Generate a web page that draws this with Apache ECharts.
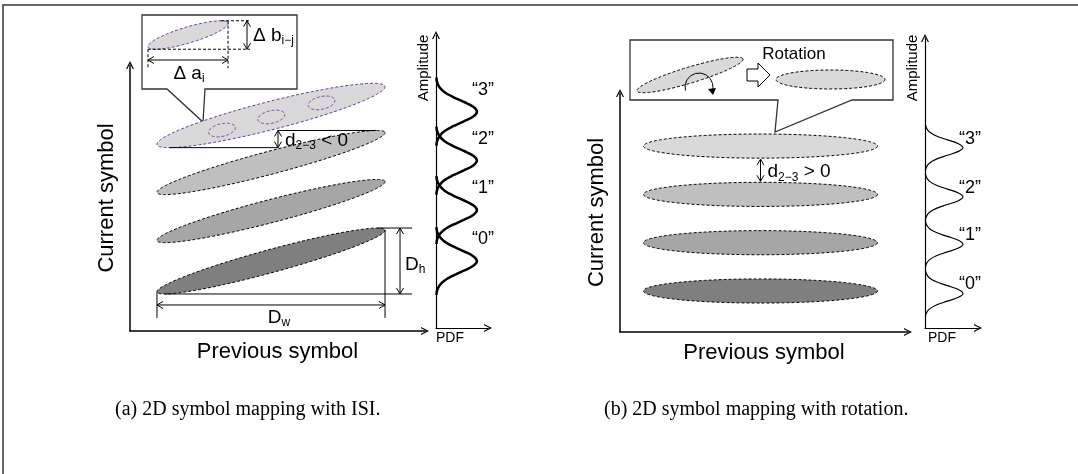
<!DOCTYPE html>
<html>
<head>
<meta charset="utf-8">
<script src="https://cdn.jsdelivr.net/npm/echarts@6/dist/echarts.min.js"></script>
<style>
  html, body { margin: 0; padding: 0; background: #fff; }
  #chart { width: 1078px; height: 474px; }
</style>
</head>
<body>
<div id="chart"></div>
<script>
// ---------- data ----------
const symbolNames = ['\u201c0\u201d', '\u201c1\u201d', '\u201c2\u201d', '\u201c3\u201d'];

// (a) symbol clusters under ISI: [prevStart, prevEnd, curStart, curEnd, halfThickness]
const isiClusters = [
  [0, 3, -0.64, 0.64, 0.237],
  [0, 3, 0.42, 1.64, 0.237],
  [0, 3, 1.41, 2.65, 0.237],
  [0, 3, 2.40, 3.60, 0.29]
];
// sub-clusters inside the top cluster
const isiSubClusters = [
  [0.68, 1.03, 2.64, 2.76, 0.13],
  [1.33, 1.68, 2.91, 3.03, 0.13],
  [1.99, 2.34, 3.20, 3.32, 0.13]
];
const isiPdfPeaks = [0, 1.05, 2.07, 3.08];
// one PDF lobe: [amplitude offset from peak, density]
const isiPdfShape = [
  [-0.7, 0.01], [-0.6, 0.03], [-0.5, 0.09], [-0.4, 0.21], [-0.3, 0.42], [-0.2, 0.68], [-0.1, 0.91],
  [0, 1], [0.1, 0.91], [0.2, 0.68], [0.3, 0.42], [0.4, 0.21], [0.5, 0.09], [0.6, 0.03], [0.7, 0.01]
];

// (b) symbol clusters after rotation
const rotClusters = [
  [0, 3, 0, 0, 0.25],
  [0, 3, 1, 1, 0.25],
  [0, 3, 2, 2, 0.25],
  [0, 3, 3, 3, 0.25]
];
const rotPdfPeaks = [-0.05, 0.97, 1.95, 2.97];
const rotPdfShape = [
  [-0.48, 0.01], [-0.4, 0.04], [-0.32, 0.12], [-0.24, 0.3], [-0.16, 0.59], [-0.08, 0.88],
  [0, 1], [0.08, 0.88], [0.16, 0.59], [0.24, 0.3], [0.32, 0.12], [0.4, 0.04], [0.48, 0.01]
];

// ---------- styles ----------
const SANS = "'Liberation Sans', Arial, sans-serif";
const SERIF = "'Liberation Serif', 'Times New Roman', serif";
const clusterFill = ['#7f7f7f', '#a6a6a6', '#bfbfbf', '#d9d9d9'];
const PURPLE = '#7030a0';
const DASH = [3, 2];
const ARROW = 'path://M0,10 L5,0 L10,10 L8.4,10 L5,3.2 L1.6,10 Z';

// ---------- helpers ----------
const measureCtx = document.createElement('canvas').getContext('2d');
function textWidth(str, size) {
  measureCtx.font = size + 'px ' + SANS;
  return measureCtx.measureText(str).width;
}
function plainText(text, x, y, size, align) {
  return {
    type: 'text',
    style: { text, x, y, fill: '#000', font: size + 'px ' + SANS, textAlign: align || 'center', textVerticalAlign: 'middle' }
  };
}
// label made of segments [text, fontSize, dy]; used for subscripts
function segLabel(x, y, segs, align) {
  const widths = segs.map(s => textWidth(s[0], s[1]));
  const total = widths.reduce((a, b) => a + b, 0);
  let cx = align === 'center' ? x - total / 2 : x;
  return segs.map((s, i) => {
    const el = plainText(s[0], cx, y + (s[2] || 0), s[1], 'left');
    cx += widths[i];
    return el;
  });
}
function ellipsePoints(cx, cy, a, b, ang, n) {
  const pts = [];
  const c = Math.cos(ang), s = Math.sin(ang);
  for (let i = 0; i < n; i++) {
    const t = 2 * Math.PI * i / n;
    const u = Math.cos(t) * a, v = Math.sin(t) * b;
    pts.push([cx + u * c - v * s, cy + u * s + v * c]);
  }
  return pts;
}
function extremes(pts) {
  let top = pts[0], bottom = pts[0];
  pts.forEach(p => { if (p[1] < top[1]) top = p; if (p[1] > bottom[1]) bottom = p; });
  return { top, bottom };
}
function clusterGeom(api, row) {
  const p0 = api.coord([row[0], row[2]]);
  const p1 = api.coord([row[1], row[3]]);
  const b = Math.abs(api.size([0, row[4]])[1]);
  const cx = (p0[0] + p1[0]) / 2, cy = (p0[1] + p1[1]) / 2;
  const a = Math.hypot(p1[0] - p0[0], p1[1] - p0[1]) / 2;
  const ang = Math.atan2(p1[1] - p0[1], p1[0] - p0[0]);
  return { p0, p1, cx, cy, a, b, ang, pts: ellipsePoints(cx, cy, a, b, ang, 240) };
}
function seg(x1, y1, x2, y2, extra) {
  return { type: 'line', shape: { x1, y1, x2, y2 }, style: Object.assign({ stroke: '#000', lineWidth: 1 }, extra || {}) };
}
function head(x, y, dx, dy) {
  const len = 6, half = 3.5;
  const bx = x - dx * len, by = y - dy * len, nx = -dy, ny = dx;
  return {
    type: 'polyline',
    shape: { points: [[bx + nx * half, by + ny * half], [x, y], [bx - nx * half, by - ny * half]] },
    style: { stroke: '#000', lineWidth: 1, fill: null }
  };
}
function dblArrow(x0, y0, x1, y1) {
  const L = Math.hypot(x1 - x0, y1 - y0);
  const dx = (x1 - x0) / L, dy = (y1 - y0) / L;
  return [seg(x0, y0, x1, y1), head(x1, y1, dx, dy), head(x0, y0, -dx, -dy)];
}

// ---------- series renderers ----------
function clusterRenderer(rows, fills, strokes) {
  return function (params, api) {
    const g = clusterGeom(api, rows[params.dataIndex]);
    return {
      type: 'polygon',
      shape: { points: g.pts },
      style: { fill: fills[params.dataIndex], stroke: strokes[params.dataIndex], lineWidth: 1, lineDash: DASH }
    };
  };
}

function isiAnnotations(params, api) {
  const g0 = clusterGeom(api, isiClusters[0]);
  const e0 = extremes(g0.pts);
  const g2 = clusterGeom(api, isiClusters[2]);
  const e2 = extremes(g2.pts);
  const e3 = extremes(clusterGeom(api, isiClusters[3]).pts);
  const els = [];
  // D_w : width of cluster "0"
  const dimY = e0.bottom[1] + 11, dimEnd = e0.bottom[1] + 24;
  els.push(seg(g0.p0[0], g0.p0[1], g0.p0[0], dimEnd));
  els.push(seg(g0.p1[0], g0.p1[1], g0.p1[0], dimEnd));
  els.push(...dblArrow(g0.p0[0], dimY, g0.p1[0], dimY));
  els.push(...segLabel(g0.cx + 8, dimEnd, [['D', 19], ['w', 12, 5]], 'center'));
  // D_h : height of cluster "0"
  const hx = g0.p1[0] + 15, hEnd = g0.p1[0] + 27;
  els.push(seg(e0.top[0], e0.top[1], hEnd, e0.top[1]));
  els.push(seg(e0.bottom[0], e0.bottom[1], hEnd, e0.bottom[1]));
  els.push(...dblArrow(hx, e0.top[1], hx, e0.bottom[1]));
  els.push(...segLabel(hx + 5, (e0.top[1] + e0.bottom[1]) / 2 + 4, [['D', 19], ['h', 12, 5]], 'left'));
  // d_{2-3} : overlap of clusters "2" and "3"
  const ax = g2.cx + 7;
  els.push(seg(ax, e2.top[1], e2.top[0], e2.top[1]));
  els.push(seg(e3.bottom[0], e3.bottom[1], ax, e3.bottom[1]));
  els.push(...dblArrow(ax, e2.top[1], ax, e3.bottom[1]));
  els.push(...segLabel(ax + 7, (e2.top[1] + e3.bottom[1]) / 2 + 2, [['d', 19], ['2\u22123', 12, 5], [' < 0', 19]], 'left'));
  return { type: 'group', children: els };
}

function rotAnnotations(params, api) {
  const g3 = clusterGeom(api, rotClusters[3]);
  const g2 = clusterGeom(api, rotClusters[2]);
  const y0 = g3.cy + g3.b + 1, y1 = g2.cy - g2.b - 1;
  const els = dblArrow(g3.cx, y0, g3.cx, y1);
  els.push(...segLabel(g3.cx + 7, (y0 + y1) / 2 + 2, [['d', 19], ['2\u22123', 12, 5], [' > 0', 19]], 'left'));
  return { type: 'group', children: els };
}

// symbol name beside each PDF peak
function peakLabeler(dx, dy) {
  return function (params, api) {
    const p = api.coord([api.value(0), api.value(1)]);
    return plainText(symbolNames[params.dataIndex], p[0] + dx, p[1] + dy, 18, 'center');
  };
}

// ---------- axes ----------
function axis(min, max, lineWidth, extra) {
  return Object.assign({
    type: 'value', min, max,
    axisTick: { show: false }, axisLabel: { show: false }, splitLine: { show: false },
    axisLine: { show: true, onZero: false, symbol: ['none', ARROW], symbolSize: [9, 8],
      lineStyle: { color: '#000', width: lineWidth } }
  }, extra || {});
}
const nameStyle = { fontSize: 22, color: '#000', fontFamily: SANS };

// ---------- static illustration (insets, frame, captions) ----------
const insetA = { cx: 188, cy: 35, a: 41.8, b: 8, ang: -0.291 };
const insetAPts = ellipsePoints(insetA.cx, insetA.cy, insetA.a, insetA.b, insetA.ang, 160);
const insetAExt = extremes(insetAPts);
const aTipL = [insetA.cx - insetA.a * Math.cos(insetA.ang), insetA.cy - insetA.a * Math.sin(insetA.ang)];
const aTipR = [insetA.cx + insetA.a * Math.cos(insetA.ang), insetA.cy + insetA.a * Math.sin(insetA.ang)];
const dashStyle = { lineDash: DASH, stroke: '#000', lineWidth: 1 };

const graphics = [
  // frame
  seg(2, 5, 1078, 5, { stroke: '#666', lineWidth: 2 }),
  seg(3, 5, 3, 474, { stroke: '#666', lineWidth: 2 }),
  // inset (a)
  { type: 'polygon', shape: { points: [[142, 15], [297, 15], [297, 89], [205, 89], [203, 122], [167, 89], [142, 89]] },
    style: { fill: '#fff', stroke: '#333', lineWidth: 1.3 } },
  { type: 'polygon', shape: { points: insetAPts }, style: { fill: '#d9d9d9', stroke: PURPLE, lineWidth: 1, lineDash: DASH } },
  seg(insetAExt.top[0], insetAExt.top[1], 250, insetAExt.top[1], dashStyle),
  seg(aTipL[0], insetAExt.bottom[1], 250, insetAExt.bottom[1], dashStyle),
  seg(aTipL[0], insetAExt.bottom[1], aTipL[0], 68, dashStyle),
  seg(aTipR[0], insetAExt.top[1], aTipR[0], 68, dashStyle),
  ...dblArrow(247, insetAExt.top[1], 247, insetAExt.bottom[1]),
  ...dblArrow(aTipL[0], 60, aTipR[0], 60),
  ...segLabel(189, 74, [['\u0394 a', 19], ['i', 12, 5]], 'center'),
  ...segLabel(253, 36, [['\u0394 b', 19], ['i\u2212j', 12, 5]], 'left'),
  // inset (b)
  { type: 'polygon', shape: { points: [[630, 40], [893, 40], [893, 100], [852, 100], [775, 132], [778, 100], [630, 100]] },
    style: { fill: '#fff', stroke: '#333', lineWidth: 1.3 } },
  { type: 'polygon', shape: { points: ellipsePoints(690, 75, 55.4, 8, -0.293, 160) },
    style: { fill: '#d9d9d9', stroke: '#000', lineWidth: 1, lineDash: DASH } },
  { type: 'arc', shape: { cx: 699, cy: 87, r: 14, startAngle: Math.PI * 0.92, endAngle: Math.PI * 2.12, clockwise: true },
    style: { stroke: '#000', lineWidth: 1, fill: null } },
  { type: 'polygon', shape: { points: [[708, 89], [716, 88], [713, 95]] }, style: { fill: '#000' } },
  { type: 'polygon', shape: { points: [[747, 69], [758, 69], [758, 63], [770, 75], [758, 87], [758, 81], [747, 81]] },
    style: { fill: '#fff', stroke: '#000', lineWidth: 1 } },
  plainText('Rotation', 794, 54, 17, 'center'),
  { type: 'polygon', shape: { points: ellipsePoints(830.5, 79.5, 54.5, 9.5, 0, 160) },
    style: { fill: '#d9d9d9', stroke: '#000', lineWidth: 1, lineDash: DASH } },
  // PDF axis titles
  Object.assign(plainText('Amplitude', 0, 0, 15, 'center'), { x: 424, y: 68, rotation: Math.PI / 2 }),
  Object.assign(plainText('Amplitude', 0, 0, 15, 'center'), { x: 913, y: 68, rotation: Math.PI / 2 }),
  plainText('PDF', 450, 338, 14, 'center'),
  plainText('PDF', 942, 338, 14, 'center'),
  // captions
  { type: 'text', style: { text: '(a) 2D symbol mapping with ISI.', x: 115, y: 410, font: '20px ' + SERIF, fill: '#000', textAlign: 'left', textVerticalAlign: 'middle' } },
  { type: 'text', style: { text: '(b) 2D symbol mapping with rotation.', x: 604, y: 410, font: '20px ' + SERIF, fill: '#000', textAlign: 'left', textVerticalAlign: 'middle' } }
];

// ---------- chart ----------
const chart = echarts.init(document.getElementById('chart'), null, { renderer: 'canvas' });

function pdfLines(peaks, shape, xi, width) {
  return peaks.map(pk => ({
    type: 'line', xAxisIndex: xi, yAxisIndex: xi,
    data: shape.map(([d, v]) => [v, pk + d]),
    smooth: 0.4, symbol: 'none', clip: false, silent: true,
    lineStyle: { color: '#000', width }
  }));
}
function pdfLabels(peaks, xi, dx, dy) {
  return {
    type: 'custom', xAxisIndex: xi, yAxisIndex: xi, silent: true,
    data: peaks.map(pk => [1, pk]), renderItem: peakLabeler(dx, dy)
  };
}

chart.setOption({
  animation: false,
  backgroundColor: '#fff',
  grid: [
    { left: 130, top: 65, width: 295, height: 266 },
    { left: 436, top: 35, width: 52, height: 293 },
    { left: 620, top: 93, width: 288, height: 239 },
    { left: 925, top: 38, width: 53, height: 290 }
  ],
  xAxis: [
    axis(-0.355, 3.526, 1.5, { gridIndex: 0, name: 'Previous symbol', nameLocation: 'middle', nameGap: 10, nameTextStyle: nameStyle }),
    axis(0, 1.27, 1.2, { gridIndex: 1 }),
    axis(-0.301, 3.391, 1.5, { gridIndex: 2, name: 'Previous symbol', nameLocation: 'middle', nameGap: 10, nameTextStyle: nameStyle }),
    axis(0, 1.395, 1.2, { gridIndex: 3 })
  ],
  yAxis: [
    axis(-1.443, 4.041, 1.5, { gridIndex: 0, name: 'Current symbol', nameLocation: 'middle', nameRotate: 90, nameGap: 12, nameTextStyle: nameStyle }),
    axis(-1.381, 4.660, 1.2, { gridIndex: 1 }),
    axis(-0.849, 4.099, 1.5, { gridIndex: 2, name: 'Current symbol', nameLocation: 'middle', nameRotate: 90, nameGap: 12, nameTextStyle: nameStyle }),
    axis(-0.766, 5.238, 1.2, { gridIndex: 3 })
  ],
  graphic: graphics,
  series: [
    { type: 'custom', xAxisIndex: 0, yAxisIndex: 0, silent: true, data: isiClusters,
      encode: { x: [0, 1], y: [2, 3] },
      renderItem: clusterRenderer(isiClusters, clusterFill, ['#000', '#000', '#000', PURPLE]) },
    { type: 'custom', xAxisIndex: 0, yAxisIndex: 0, silent: true, data: isiSubClusters,
      encode: { x: [0, 1], y: [2, 3] },
      renderItem: clusterRenderer(isiSubClusters, [null, null, null], [PURPLE, PURPLE, PURPLE]) },
    { type: 'custom', xAxisIndex: 0, yAxisIndex: 0, silent: true, data: [[0, 0]], renderItem: isiAnnotations, z: 3 },
    ...pdfLines(isiPdfPeaks, isiPdfShape, 1, 2.5),
    pdfLabels(isiPdfPeaks, 1, 6, -22),
    { type: 'custom', xAxisIndex: 2, yAxisIndex: 2, silent: true, data: rotClusters,
      encode: { x: [0, 1], y: [2, 3] },
      renderItem: clusterRenderer(rotClusters, clusterFill, ['#000', '#000', '#000', '#000']) },
    { type: 'custom', xAxisIndex: 2, yAxisIndex: 2, silent: true, data: [[0, 0]], renderItem: rotAnnotations, z: 3 },
    ...pdfLines(rotPdfPeaks, rotPdfShape, 3, 1.2),
    pdfLabels(rotPdfPeaks, 3, 7, -9)
  ]
});
</script>
</body>
</html>
